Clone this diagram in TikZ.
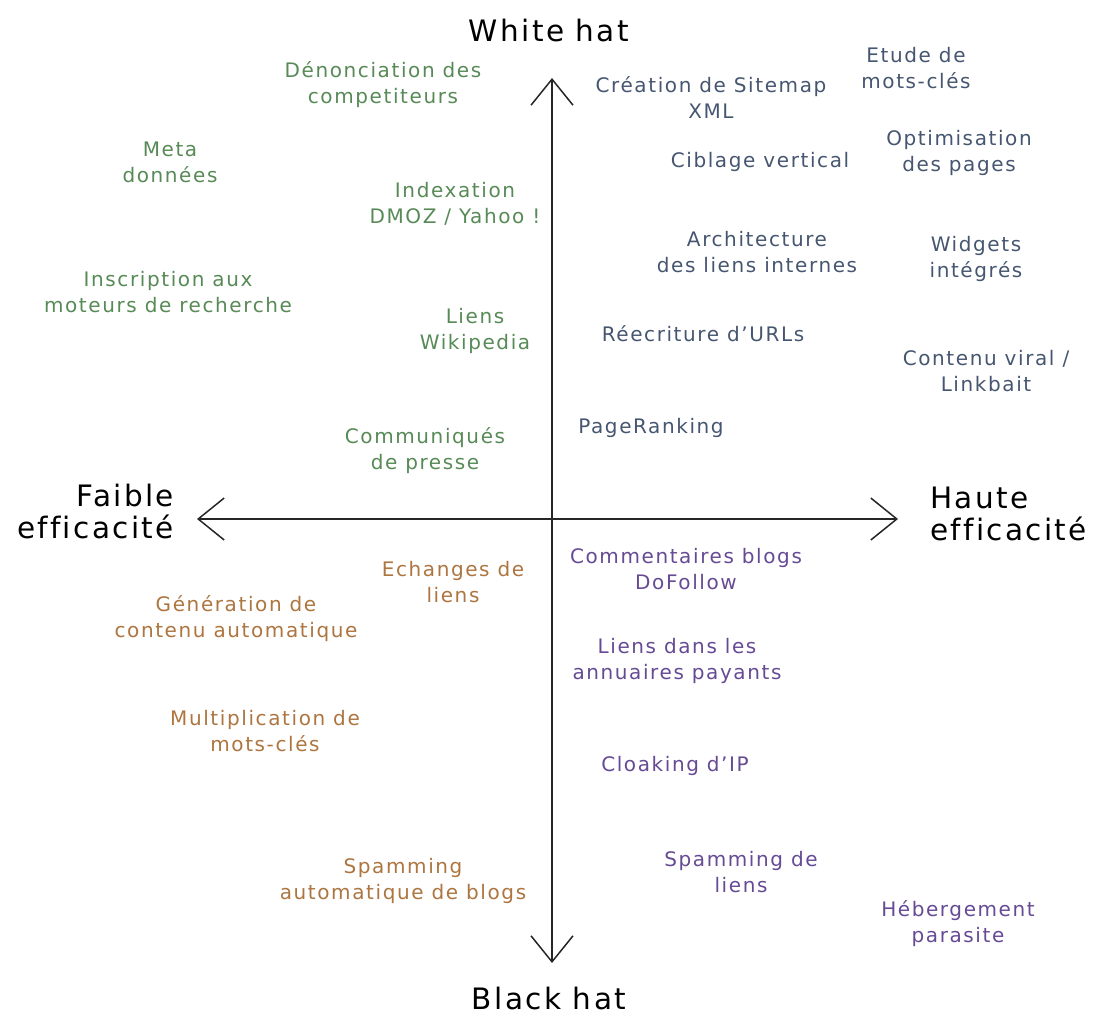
\documentclass[tikz,border=0pt]{standalone}
\usepackage{fontspec}
\setmainfont{DejaVu Sans}[LetterSpace=8,Ligatures=NoCommon]
\usetikzlibrary{arrows.meta}
\definecolor{cgreen}{HTML}{578A56}
\definecolor{cslate}{HTML}{465670}
\definecolor{corange}{HTML}{AD7540}
\definecolor{cpurple}{HTML}{664A94}
\begin{document}
\begin{tikzpicture}[x=1pt,y=-1pt,
  lbl/.style={align=center,inner sep=0pt,font=\fontsize{20}{26}\selectfont},
  gr/.style={lbl,text=cgreen},
  sl/.style={lbl,text=cslate},
  orr/.style={lbl,text=corange},
  pu/.style={lbl,text=cpurple},
  ttl/.style={inner sep=0pt,font=\fontsize{29.5}{32}\selectfont,text=black},
  axis/.style={line width=1.5pt,draw=black!85,-{Straight Barb[length=26pt,width=42pt,line width=1.5pt]}}]
\useasboundingbox (0,0) rectangle (1097,1015);
\coordinate (o) at (552,519);
\coordinate (top) at (552,78);
\coordinate (bot) at (552,963);
\coordinate (lft) at (197,519);
\coordinate (rgt) at (898,519);
\draw[axis] (o) -- (top);
\draw[axis] (o) -- (bot);
\draw[axis] (o) -- (lft);
\draw[axis] (o) -- (rgt);
\node[ttl] (wh) at (549,30) {White hat};
\node[ttl] (bh) at (549,998) {Black hat};
\node[ttl,align=right,anchor=east] (fe) at (174,511) {Faible\\efficacité};
\node[ttl,align=left,anchor=west] (he) at (930,514) {Haute\\efficacité};
% green
\node[gr] (n1) at (383,85) {Dénonciation des\\competiteurs};
\node[gr] (n2) at (170,162) {Meta\\données};
\node[gr] (n3) at (455,204) {Indexation\\DMOZ / Yahoo !};
\node[gr] (n4) at (168,292) {Inscription aux\\moteurs de recherche};
\node[gr] (n5) at (475,331) {Liens\\Wikipedia};
\node[gr] (n6) at (425,451) {Communiqués\\de presse};
% slate
\node[sl] (s1) at (711,97) {Création de Sitemap\\XML};
\node[sl] (s2) at (916,68) {Etude de\\mots-clés};
\node[sl] (s3) at (760,162) {Ciblage vertical};
\node[sl] (s4) at (959,153) {Optimisation\\des pages};
\node[sl] (s5) at (757,252) {Architecture\\des liens internes};
\node[sl] (s6) at (976,259) {Widgets\\intégrés};
\node[sl] (s7) at (703,334) {Réecriture d'URLs};
\node[sl] (s8) at (986,371) {Contenu viral /\\Linkbait};
\node[sl] (s9) at (651,428) {PageRanking};
% orange
\node[orr] (o1) at (453,582) {Echanges de\\liens};
\node[orr] (o2) at (236,619) {Génération de\\contenu automatique};
\node[orr] (o3) at (265,731) {Multiplication de\\mots-clés};
\node[orr] (o4) at (403,881) {Spamming\\automatique de blogs};
% purple
\node[pu] (p1) at (686,569) {Commentaires blogs\\DoFollow};
\node[pu] (p2) at (677,661) {Liens dans les\\annuaires payants};
\node[pu] (p3) at (675,766) {Cloaking d'IP};
\node[pu] (p4) at (741,872) {Spamming de\\liens};
\node[pu] (p5) at (958,924) {Hébergement\\parasite};
\end{tikzpicture}
\end{document}
